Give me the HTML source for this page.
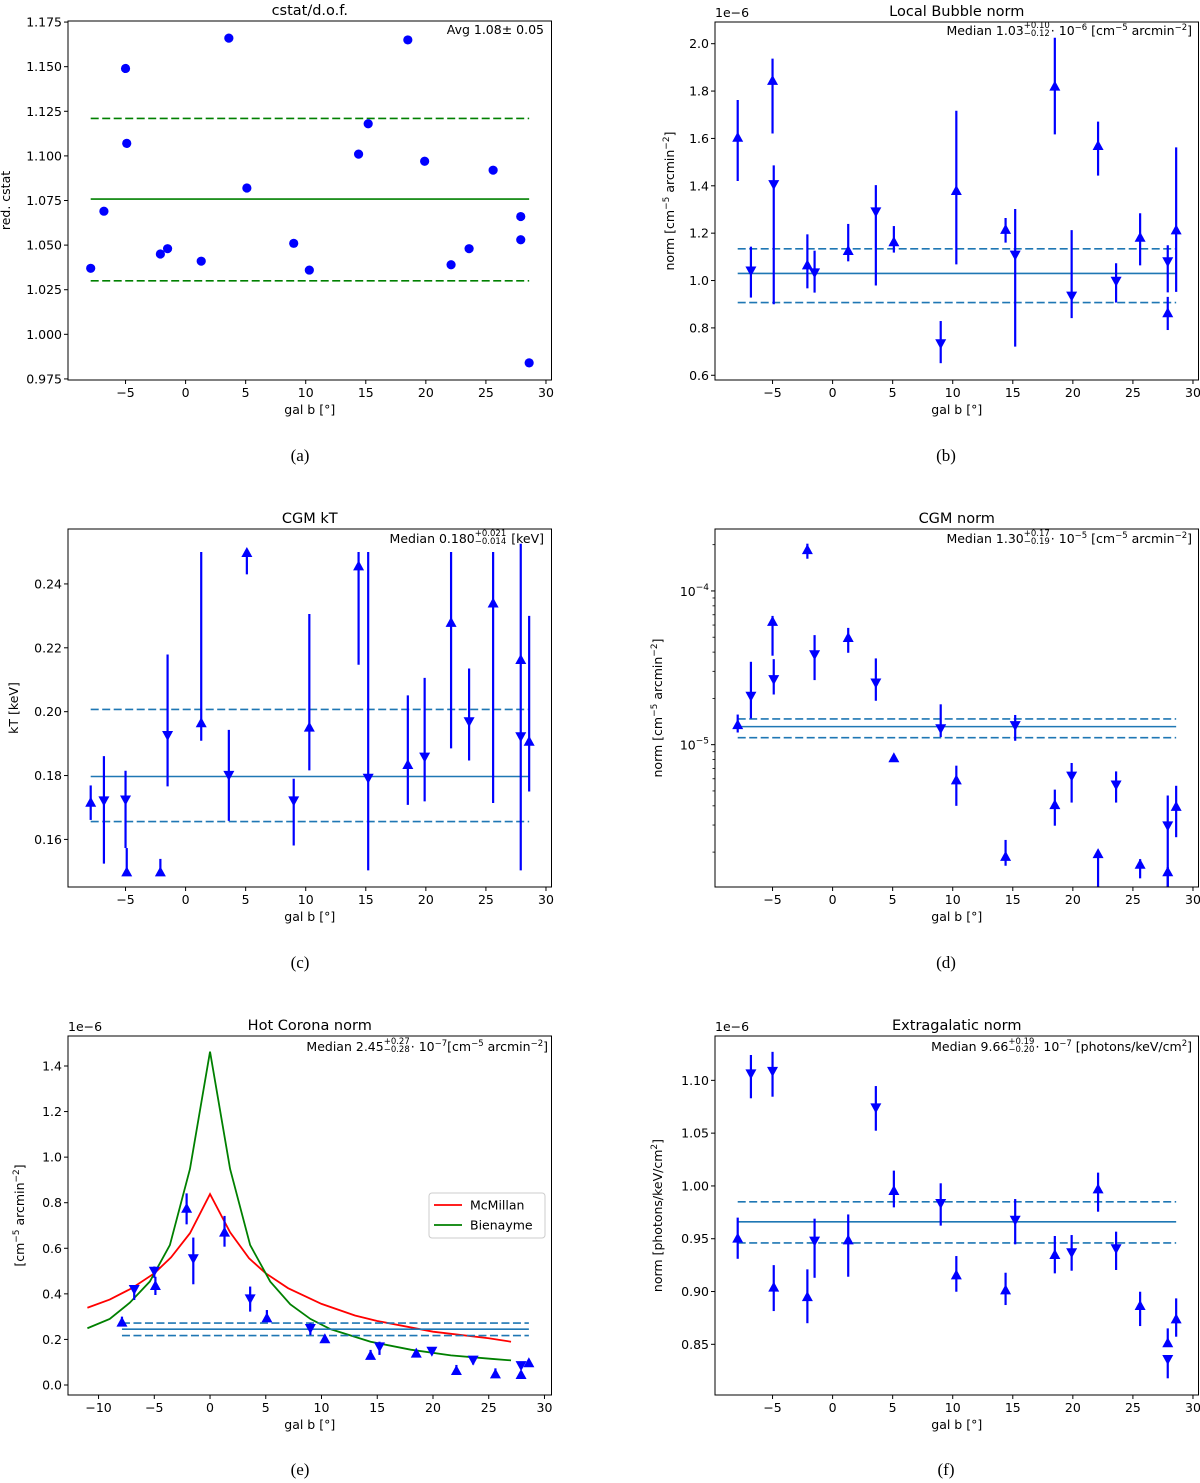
<!DOCTYPE html>
<html><head><meta charset="utf-8">
<style>
body{margin:0;background:#fff;}
#wrap{position:relative;width:1200px;height:1483px;overflow:hidden;background:#fff;font-family:"DejaVu Sans","Liberation Sans",sans-serif;}
svg{position:absolute;left:0;top:0;font-family:"DejaVu Sans","Liberation Sans",sans-serif;}
.ann{position:absolute;font-size:12.5px;color:#000;white-space:nowrap;line-height:14px;text-align:right;}
.ss{display:inline-block;vertical-align:middle;font-size:8.5px;line-height:8px;text-align:left;margin:-4px 1px 0 0;}
.ss span{display:block;}
sup{font-size:8.5px;line-height:0;}
.cap{position:absolute;font-family:"Liberation Serif",serif;font-size:17px;width:60px;text-align:center;}
</style></head>
<body>
<div id="wrap">
<svg id="svg" width="1200" height="1483"></svg>
<div class="ann" style="right:656px;top:23px;">Avg 1.08± 0.05</div>
<div class="ann" style="right:8px;top:24px;">Median 1.03<span class="ss"><span>+0.10</span><span>−0.12</span></span>· 10<sup>−6</sup> [cm<sup>−5</sup> arcmin<sup>−2</sup>]</div>
<div class="ann" style="right:656px;top:532px;">Median 0.180<span class="ss"><span>+0.021</span><span>−0.014</span></span> [keV]</div>
<div class="ann" style="right:8px;top:532px;">Median 1.30<span class="ss"><span>+0.17</span><span>−0.19</span></span>· 10<sup>−5</sup> [cm<sup>−5</sup> arcmin<sup>−2</sup>]</div>
<div class="ann" style="right:652px;top:1040px;">Median 2.45<span class="ss"><span>+0.27</span><span>−0.28</span></span>· 10<sup>−7</sup>[cm<sup>−5</sup> arcmin<sup>−2</sup>]</div>
<div class="ann" style="right:8px;top:1040px;">Median 9.66<span class="ss"><span>+0.19</span><span>−0.20</span></span>· 10<sup>−7</sup> [photons/keV/cm<sup>2</sup>]</div>
<div class="cap" style="left:270px;top:446px;">(a)</div>
<div class="cap" style="left:916px;top:446px;">(b)</div>
<div class="cap" style="left:270px;top:953px;">(c)</div>
<div class="cap" style="left:916px;top:953px;">(d)</div>
<div class="cap" style="left:270px;top:1460px;">(e)</div>
<div class="cap" style="left:916px;top:1460px;">(f)</div>
</div>
<script>
// shared galactic latitudes
const xb=[-7.9,-6.8,-5.0,-4.9,-2.1,-1.5,1.3,3.6,5.1,9.0,10.3,14.4,15.2,18.5,19.9,22.1,23.6,25.6,27.9,27.9,28.6];
// (a) reduced cstat
const aVal=[1.037,1.069,1.149,1.107,1.045,1.048,1.041,1.166,1.082,1.051,1.036,1.101,1.118,1.165,1.097,1.039,1.048,1.092,1.066,1.053,0.984];
const aLines=[1.0758,1.121,1.030];
// (b) Local Bubble norm (1e-6)
const bVal=[1.607,1.038,1.847,1.403,1.068,1.03,1.129,1.288,1.166,0.731,1.382,1.218,1.105,1.823,0.932,1.572,0.995,1.185,1.077,0.866,1.216];
const bLo=[1.42,0.928,1.621,0.9,0.967,0.949,1.081,0.979,1.118,0.651,1.068,1.16,0.721,1.617,0.841,1.443,0.907,1.064,0.95,0.791,0.952];
const bHi=[1.762,1.143,1.937,1.486,1.195,1.126,1.239,1.403,1.23,0.829,1.717,1.264,1.302,2.025,1.213,1.671,1.073,1.284,1.149,0.931,1.562];
const bDir=['u','d','u','d','u','d','u','d','u','d','u','u','d','u','d','u','d','u','d','u','u'];
const bLines=[1.03,1.134,0.907];
// (c) CGM kT
const cVal=[0.1718,0.1719,0.1722,0.150,0.150,0.1924,0.1967,0.1799,0.250,0.1719,0.1953,0.2458,0.179,0.1836,0.1856,0.2281,0.1967,0.2342,0.2165,0.192,0.1909];
const cLo=[0.1661,0.1524,0.1573,0.149,0.150,0.1766,0.1909,0.1658,0.243,0.1581,0.1816,0.2147,0.1503,0.1708,0.1719,0.1885,0.1847,0.1714,0.1503,0.192,0.175];
const cHi=[0.1769,0.1861,0.1815,0.1573,0.1539,0.2179,0.25,0.1943,0.25,0.179,0.2306,0.25,0.25,0.2051,0.2106,0.25,0.2135,0.25,0.2526,0.192,0.23];
const cDir=['u','d','d','u','u','d','u','d','u','d','u','u','d','u','d','u','d','u','u','d','u'];
const cLines=[0.1797,0.2007,0.1656];
// (d) CGM norm (1e-5)
const dVal=[1.36,2.05,6.39,2.63,18.7,3.82,5.02,2.5,0.828,1.26,0.595,0.189,1.32,0.41,0.62,0.197,0.542,0.168,0.294,0.15,0.4];
const dLo=[1.2,1.48,3.79,2.12,16.2,2.63,3.96,1.93,0.828,1.12,0.40,0.163,1.06,0.297,0.42,0.1,0.42,0.135,0.1,0.1,0.25];
const dHi=[1.57,3.46,6.88,3.6,20.3,5.16,5.75,3.64,0.828,1.83,0.73,0.24,1.56,0.51,0.76,0.197,0.67,0.18,0.467,0.16,0.54];
const dDir=['u','d','u','d','u','d','u','d','u','d','u','u','d','u','d','u','d','u','d','u','u'];
const dLines=[1.31,1.47,1.11];
// (e) Hot corona norm (1e-6)
const eVal=[0.278,0.417,0.497,0.439,0.778,0.552,0.673,0.376,0.297,0.246,0.205,0.132,0.165,0.142,0.146,0.066,0.107,0.051,0.083,0.048,0.1];
const eLo=[0.265,0.373,0.47,0.395,0.705,0.442,0.607,0.322,0.278,0.219,0.19,0.117,0.132,0.13,0.135,0.044,0.09,0.037,0.07,0.035,0.09];
const eHi=[0.3,0.437,0.52,0.475,0.841,0.647,0.742,0.432,0.329,0.271,0.22,0.154,0.19,0.155,0.158,0.088,0.12,0.073,0.095,0.06,0.11];
const eDir=['u','d','d','u','u','d','u','d','u','d','u','u','d','u','d','u','d','u','d','u','u'];
const eLines=[0.245,0.272,0.217];
const mcX=[-11,-9,-7,-5,-3.5,-1.8,0,1.8,3.5,5,7,10,13,15,20,25,27];
const mcY=[0.339,0.375,0.425,0.49,0.56,0.666,0.838,0.67,0.556,0.49,0.425,0.356,0.305,0.281,0.234,0.205,0.19];
const biX=[-11,-9,-7.2,-5.4,-3.6,-1.8,0,1.8,3.6,5.4,7.2,9,10.8,14.4,18,21.6,25.2,27];
const biY=[0.249,0.29,0.361,0.454,0.614,0.948,1.463,0.948,0.614,0.454,0.354,0.29,0.245,0.19,0.155,0.13,0.115,0.108];
// (f) Extragalactic norm (1e-6)
const fVal=[0.951,1.1057,1.108,0.9046,0.8957,0.9472,0.9494,1.0735,0.9961,0.9829,0.9163,0.902,0.967,0.9355,0.9362,0.9977,0.94,0.8872,0.8519,0.8351,0.8746];
const fLo=[0.931,1.083,1.0845,0.8815,0.870,0.913,0.914,1.0523,0.9797,0.9624,0.8998,0.8872,0.9447,0.9172,0.9197,0.9756,0.9204,0.8673,0.8519,0.8178,0.8572];
const fHi=[0.970,1.124,1.127,0.925,0.921,0.969,0.973,1.0946,1.0145,1.0025,0.9336,0.9178,0.9876,0.9526,0.9535,1.0126,0.9567,0.8998,0.8651,0.8351,0.8935];
const fDir=['u','d','d','u','u','d','u','d','u','d','u','u','d','u','d','u','d','u','u','d','u'];
const fLines=[0.966,0.985,0.946];
const xTicks=[-5,0,5,10,15,20,25,30];
const xTicksE=[-10,-5,0,5,10,15,20,25,30];

const NS='http://www.w3.org/2000/svg';
const svg=document.getElementById('svg');
const FS=12.5;
function mk(tag,attrs,parent){const e=document.createElementNS(NS,tag);for(const k in attrs)e.setAttribute(k,attrs[k]);(parent||svg).appendChild(e);return e;}

function makePanel(id,box,xd,yd,log){
  const p={id,box,xd,yd,log};
  p.x=v=>box.l+(v-xd[0])/(xd[1]-xd[0])*(box.r-box.l);
  p.y=v=>{const t=log?Math.log10(v):v;return box.b-(t-yd[0])/(yd[1]-yd[0])*(box.b-box.t);};
  const cp=mk('clipPath',{id:'clip'+id});
  mk('rect',{x:box.l,y:box.t,width:box.r-box.l,height:box.b-box.t},cp);
  const g=mk('g',{'clip-path':'url(#clip'+id+')'});
  
  
  p.g=g;
  return p;
}
function frame(p,title,xt,yt,fmt,ylabel,ylabX){
  const b=p.box;
  const fr=mk('rect',{x:b.l,y:b.t,width:b.r-b.l,height:b.b-b.t,fill:'none',stroke:'#000','stroke-width':1});
  
  
  xt.forEach(v=>{const X=p.x(v);
    const l=mk('line',{x1:X,x2:X,y1:b.b,y2:b.b+4,stroke:'#000'});
    
    
    const t=mk('text',{x:X,y:b.b+17,'text-anchor':'middle','font-size':FS});
    t.textContent=(v<0?'−'+(-v):''+v);
    
    
  });
  yt.forEach(v=>{const Y=p.y(v);
    const l=mk('line',{x1:b.l-4,x2:b.l,y1:Y,y2:Y,stroke:'#000'});
    
    
    const t=mk('text',{x:b.l-6,y:Y+4.5,'text-anchor':'end','font-size':FS});
    t.textContent=fmt(v);
    
    
  });
  const ti=mk('text',{x:(b.l+b.r)/2,y:b.t-6,'text-anchor':'middle','font-size':14.5});
  ti.textContent=title;
  
  
  const xl=mk('text',{x:(b.l+b.r)/2,y:b.b+34,'text-anchor':'middle','font-size':FS});
  xl.textContent='gal b [°]';
  
  
  const cy=(b.t+b.b)/2;
  const yl=mk('text',{x:ylabX,y:cy,'text-anchor':'middle','font-size':FS,transform:'rotate(-90 '+ylabX+' '+cy+')'});
  yl.innerHTML=ylabel;
  
  
}
function offsetText(p,txt){
  const t=mk('text',{x:p.box.l,y:p.box.t-5,'font-size':FS});
  t.textContent=txt;
  
  
}
function hlines(p,vals,color){
  const x1=p.x(xb[0]),x2=p.x(xb[xb.length-1]);
  vals.forEach((v,i)=>{
    const l=mk('line',{x1:x1,x2:x2,y1:p.y(v),y2:p.y(v),stroke:color,'stroke-width':1.6},p.g);
    if(i>0)l.setAttribute('stroke-dasharray','8 3.5');
    
    
  });
}
function tri(p,vals,lo,hi,dir){
  vals.forEach((v,i)=>{
    const X=p.x(xb[i]),Y=p.y(v);
    if(lo[i]!==hi[i]){
      const e=mk('line',{x1:X,x2:X,y1:p.y(lo[i]),y2:p.y(hi[i]),stroke:'#0000ff','stroke-width':2.2},p.g);
      
      
    }
    const w=5.5,h=5;
    const pts=dir[i]==='u'?[[X,Y-h],[X-w,Y+h],[X+w,Y+h]]:[[X,Y+h],[X-w,Y-h],[X+w,Y-h]];
    const m=mk('polygon',{points:pts.map(q=>q.join(',')).join(' '),fill:'#0000ff'},p.g);
    
    
  });
}
const f3=v=>v.toFixed(3), f2=v=>v.toFixed(2), f1=v=>v.toFixed(1);
const XD=[-9.79,30.46];

// (a)
const pa=makePanel('a',{l:68,t:21,r:551.5,b:380},XD,[0.9744,1.1756],false);
frame(pa,'cstat/d.o.f.',xTicks,[0.975,1.0,1.025,1.05,1.075,1.1,1.125,1.15,1.175],f3,'red. cstat',10);
hlines(pa,aLines,'#008000');
aVal.forEach((v,i)=>{const c=mk('circle',{cx:pa.x(xb[i]),cy:pa.y(v),r:4.6,fill:'#0000ff'},pa.g);

});

// (b)
const pb=makePanel('b',{l:715,t:22,r:1198.5,b:380},XD,[0.580,2.0916],false);
frame(pb,'Local Bubble norm',xTicks,[0.6,0.8,1.0,1.2,1.4,1.6,1.8,2.0],f1,'norm [cm<tspan dy="-5" font-size="9">−5</tspan><tspan dy="5"> arcmin</tspan><tspan dy="-5" font-size="9">−2</tspan><tspan dy="5">]</tspan>',674);
offsetText(pb,'1e−6');
hlines(pb,bLines,'#1f77b4');
tri(pb,bVal,bLo,bHi,bDir);

// (c)
const pc=makePanel('c',{l:68,t:529,r:551.5,b:887},XD,[0.1451,0.2572],false);
frame(pc,'CGM kT',xTicks,[0.16,0.18,0.20,0.22,0.24],f2,'kT [keV]',18);
hlines(pc,cLines,'#1f77b4');
tri(pc,cVal,cLo,cHi,cDir);

// (d) log
const pd=makePanel('d',{l:715,t:529,r:1198.5,b:887},XD,[-5.926,-3.597],true);
const pdS=v=>v*1e-5;
frame(pd,'CGM norm',xTicks,[],f1,'norm [cm<tspan dy="-5" font-size="9">−5</tspan><tspan dy="5"> arcmin</tspan><tspan dy="-5" font-size="9">−2</tspan><tspan dy="5">]</tspan>',662);
[-6,-5,-4].forEach(k=>{for(let m=1;m<10;m++){const v=m*Math.pow(10,k);const lv=Math.log10(v);
  if(lv<pd.yd[0]||lv>pd.yd[1])continue;const Y=pd.y(v);
  const l=mk('line',{x1:pd.box.l-(m===1?4:2.5),x2:pd.box.l,y1:Y,y2:Y,stroke:'#000','stroke-width':m===1?1:0.8});
  
  
  if(m===1){const t=mk('text',{x:pd.box.l-6,y:Y+5,'text-anchor':'end','font-size':FS});
    t.innerHTML='10<tspan dy="-6" font-size="9">'+'−'+(-k)+'</tspan>';
    
    }
}});
hlines(pd,dLines.map(pdS),'#1f77b4');
tri(pd,dVal.map(pdS),dLo.map(pdS),dHi.map(pdS),dDir);

// (e)
const pe=makePanel('e',{l:68,t:1036,r:551.5,b:1395},[-12.74,30.63],[-0.0439,1.5316],false);
frame(pe,'Hot Corona norm',xTicksE,[0,0.2,0.4,0.6,0.8,1.0,1.2,1.4],f1,'[cm<tspan dy="-5" font-size="9">−5</tspan><tspan dy="5"> arcmin</tspan><tspan dy="-5" font-size="9">−2</tspan><tspan dy="5">]</tspan>',24);
offsetText(pe,'1e−6');
const mcl=mk('polyline',{points:mcX.map((v,i)=>pe.x(v)+','+pe.y(mcY[i])).join(' '),fill:'none',stroke:'#ff0000','stroke-width':1.8},pe.g);


const bil=mk('polyline',{points:biX.map((v,i)=>pe.x(v)+','+pe.y(biY[i])).join(' '),fill:'none',stroke:'#008000','stroke-width':1.8},pe.g);


hlines(pe,eLines,'#1f77b4');
tri(pe,eVal,eLo,eHi,eDir);
const lg=mk('g',{});


mk('rect',{x:429,y:1193,width:116,height:45,rx:3,fill:'#fff',stroke:'#ccc'},lg);
[['McMillan','#ff0000',1205],['Bienayme','#008000',1225]].forEach(d=>{
  const l=mk('line',{x1:434,x2:462,y1:d[2],y2:d[2],stroke:d[1],'stroke-width':1.8},lg);
  
  
  const t=mk('text',{x:470,y:d[2]+4.5,'font-size':FS},lg);
  t.textContent=d[0];
  
  
});

// (f)
const pf=makePanel('f',{l:715,t:1036,r:1198.5,b:1395},XD,[0.802,1.142],false);
frame(pf,'Extragalatic norm',xTicks,[0.85,0.9,0.95,1.0,1.05,1.1],f2,'norm [photons/keV/cm<tspan dy="-5" font-size="9">2</tspan><tspan dy="5">]</tspan>',662);
offsetText(pf,'1e−6');
hlines(pf,fLines,'#1f77b4');
tri(pf,fVal,fLo,fHi,fDir);
</script>
</body></html>
